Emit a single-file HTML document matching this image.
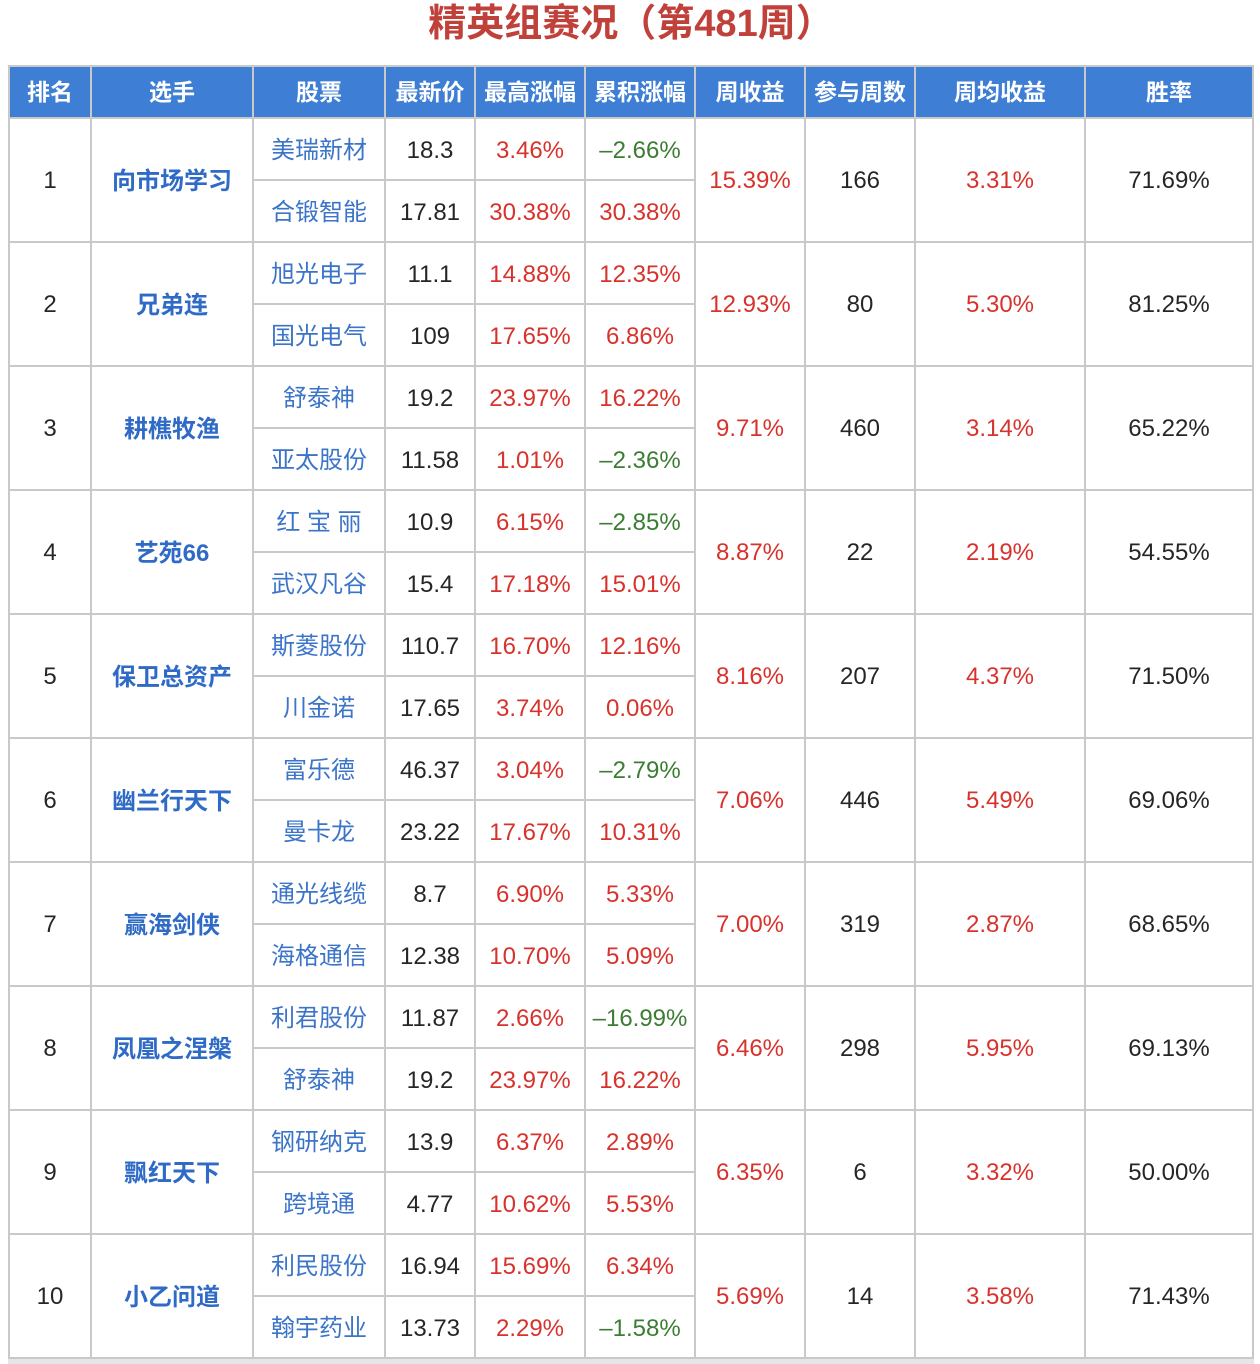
<!DOCTYPE html>
<html>
<head>
<meta charset="utf-8">
<style>
html,body{margin:0;padding:0;background:#fff;}
body{width:1260px;height:1364px;position:relative;overflow:hidden;font-family:"Liberation Sans","Noto Sans CJK SC",sans-serif;}
.title{position:absolute;left:8px;top:2px;width:1246px;height:44px;line-height:44px;text-align:center;font-size:38px;font-weight:bold;color:#c0403a;font-family:"Liberation Sans","Noto Sans CJK SC",sans-serif;}
.grid{position:absolute;left:8px;top:65px;width:1242px;padding:2px;background:#c9c9c9;display:grid;
grid-template-columns:80px 160px 130px 88px 108px 108px 108px 108px 168px 166px;
grid-template-rows:50px repeat(20,60px);gap:2px;}
.grid>div{background:#fff;display:flex;align-items:center;justify-content:center;font-size:24px;color:#262626;white-space:nowrap;box-sizing:border-box;padding-top:4px;}
.grid>div.s{grid-row:span 2;padding-top:2px;}
.grid>div.h{background:#3e7ed5;color:#fff;font-weight:bold;font-size:23px;padding-top:0;padding-bottom:4px;}
.grid>div.n{color:#2f6bc6;font-weight:bold;padding-top:0;padding-bottom:4px;}
.grid>div.k{color:#3b74c8;padding-top:0;padding-bottom:4px;}
.grid>div.r{color:#d8322c;}
.grid>div.g{color:#3b7d33;}
.band{position:absolute;left:8px;top:1359px;width:1246px;height:5px;background:#e6e6e6;}
</style>
</head>
<body>
<div class="title">精英组赛况（第481周）</div>
<div class="grid">
<div class="h">排名</div><div class="h">选手</div><div class="h">股票</div><div class="h">最新价</div><div class="h">最高涨幅</div><div class="h">累积涨幅</div><div class="h">周收益</div><div class="h">参与周数</div><div class="h">周均收益</div><div class="h">胜率</div>

<div class="s">1</div><div class="s n">向市场学习</div><div class="k">美瑞新材</div><div>18.3</div><div class="r">3.46%</div><div class="g">–2.66%</div><div class="s r">15.39%</div><div class="s">166</div><div class="s r">3.31%</div><div class="s">71.69%</div>
<div class="k">合锻智能</div><div>17.81</div><div class="r">30.38%</div><div class="r">30.38%</div>

<div class="s">2</div><div class="s n">兄弟连</div><div class="k">旭光电子</div><div>11.1</div><div class="r">14.88%</div><div class="r">12.35%</div><div class="s r">12.93%</div><div class="s">80</div><div class="s r">5.30%</div><div class="s">81.25%</div>
<div class="k">国光电气</div><div>109</div><div class="r">17.65%</div><div class="r">6.86%</div>

<div class="s">3</div><div class="s n">耕樵牧渔</div><div class="k">舒泰神</div><div>19.2</div><div class="r">23.97%</div><div class="r">16.22%</div><div class="s r">9.71%</div><div class="s">460</div><div class="s r">3.14%</div><div class="s">65.22%</div>
<div class="k">亚太股份</div><div>11.58</div><div class="r">1.01%</div><div class="g">–2.36%</div>

<div class="s">4</div><div class="s n">艺苑66</div><div class="k">红&nbsp;宝&nbsp;丽</div><div>10.9</div><div class="r">6.15%</div><div class="g">–2.85%</div><div class="s r">8.87%</div><div class="s">22</div><div class="s r">2.19%</div><div class="s">54.55%</div>
<div class="k">武汉凡谷</div><div>15.4</div><div class="r">17.18%</div><div class="r">15.01%</div>

<div class="s">5</div><div class="s n">保卫总资产</div><div class="k">斯菱股份</div><div>110.7</div><div class="r">16.70%</div><div class="r">12.16%</div><div class="s r">8.16%</div><div class="s">207</div><div class="s r">4.37%</div><div class="s">71.50%</div>
<div class="k">川金诺</div><div>17.65</div><div class="r">3.74%</div><div class="r">0.06%</div>

<div class="s">6</div><div class="s n">幽兰行天下</div><div class="k">富乐德</div><div>46.37</div><div class="r">3.04%</div><div class="g">–2.79%</div><div class="s r">7.06%</div><div class="s">446</div><div class="s r">5.49%</div><div class="s">69.06%</div>
<div class="k">曼卡龙</div><div>23.22</div><div class="r">17.67%</div><div class="r">10.31%</div>

<div class="s">7</div><div class="s n">赢海剑侠</div><div class="k">通光线缆</div><div>8.7</div><div class="r">6.90%</div><div class="r">5.33%</div><div class="s r">7.00%</div><div class="s">319</div><div class="s r">2.87%</div><div class="s">68.65%</div>
<div class="k">海格通信</div><div>12.38</div><div class="r">10.70%</div><div class="r">5.09%</div>

<div class="s">8</div><div class="s n">凤凰之涅槃</div><div class="k">利君股份</div><div>11.87</div><div class="r">2.66%</div><div class="g">–16.99%</div><div class="s r">6.46%</div><div class="s">298</div><div class="s r">5.95%</div><div class="s">69.13%</div>
<div class="k">舒泰神</div><div>19.2</div><div class="r">23.97%</div><div class="r">16.22%</div>

<div class="s">9</div><div class="s n">飘红天下</div><div class="k">钢研纳克</div><div>13.9</div><div class="r">6.37%</div><div class="r">2.89%</div><div class="s r">6.35%</div><div class="s">6</div><div class="s r">3.32%</div><div class="s">50.00%</div>
<div class="k">跨境通</div><div>4.77</div><div class="r">10.62%</div><div class="r">5.53%</div>

<div class="s">10</div><div class="s n">小乙问道</div><div class="k">利民股份</div><div>16.94</div><div class="r">15.69%</div><div class="r">6.34%</div><div class="s r">5.69%</div><div class="s">14</div><div class="s r">3.58%</div><div class="s">71.43%</div>
<div class="k">翰宇药业</div><div>13.73</div><div class="r">2.29%</div><div class="g">–1.58%</div>
</div>
<div class="band"></div>
</body>
</html>
